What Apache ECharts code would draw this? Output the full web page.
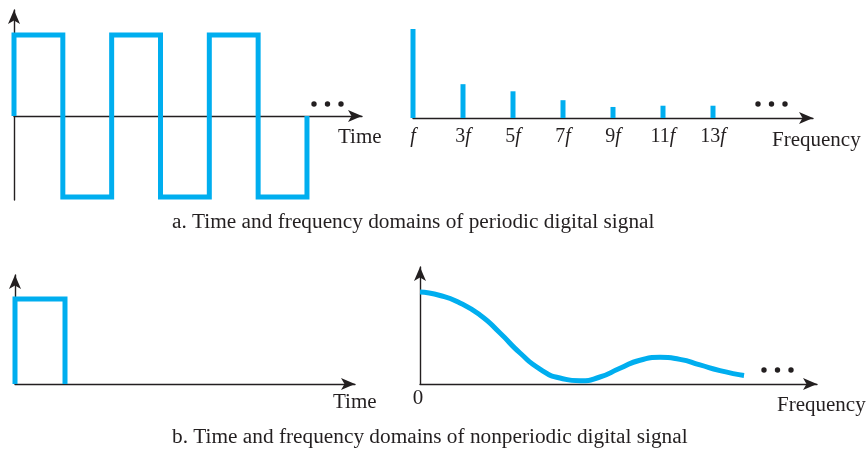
<!DOCTYPE html>
<html>
<head>
<meta charset="utf-8">
<script src="https://cdn.jsdelivr.net/npm/echarts@6/dist/echarts.min.js"></script>
<style>
html,body{margin:0;padding:0;background:#fff;}
#c{width:866px;height:450px;}
</style>
</head>
<body>
<div id="c"></div>
<script>
// ---- data ----
// periodic square wave (time in half-periods, amplitude)
var waveTimes  = [0, 0, 1, 1, 2, 2, 3, 3, 4, 4, 5, 5, 6, 6];
var waveValues = [0, 1, 1, -1, -1, 1, 1, -1, -1, 1, 1, -1, -1, 0];
// harmonics spectrum
var harmonicCats = ['f', '3f', '5f', '7f', '9f', '11f', '13f', '', ''];
var harmonicAmps = [1.0, 0.38, 0.30, 0.20, 0.124, 0.138, 0.138];
// single pulse
var pulseTimes  = [0, 0, 1, 1];
var pulseValues = [0, 1, 1, 0];
// continuous spectrum of the pulse
var specFreq = [0, 0.131, 0.261, 0.392, 0.523, 0.654, 0.784, 0.915, 1.046, 1.176, 1.307, 1.438, 1.569, 1.699, 1.830, 1.961, 2.118];
var specAmp  = [1.0, 0.962, 0.880, 0.750, 0.554, 0.337, 0.163, 0.065, 0.036, 0.076, 0.171, 0.258, 0.290, 0.268, 0.207, 0.145, 0.092];
// texts
var captionA = 'a. Time and frequency domains of periodic digital signal';
var captionB = 'b. Time and frequency domains of nonperiodic digital signal';

var BLUE = '#00aeef';
var INK = '#231f20';
var FONT = '"Liberation Serif", "Times New Roman", serif';

function zipXY(xs, ys) { return xs.map(function (x, i) { return [x, ys[i]]; }); }

var axisLineStyle = { color: INK, width: 1.4 };
function arrowAxis(extra) {
  var o = {
    type: 'value',
    axisLine: { show: true, onZero: true, symbol: ['none', 'arrow'], symbolSize: [9, 14], lineStyle: axisLineStyle },
    axisTick: { show: false }, axisLabel: { show: false }, splitLine: { show: false }
  };
  for (var k in extra) o[k] = extra[k];
  return o;
}

function txt(x, y, s, size, extraStyle) {
  var st = { text: s, x: 0, y: 0, fill: INK, font: (size || 21) + 'px ' + FONT, verticalAlign: 'middle', align: 'left' };
  if (extraStyle) for (var k in extraStyle) st[k] = extraStyle[k];
  return { type: 'text', x: x, y: y, style: st, silent: true };
}
function dots(x0, y, gap) {
  var arr = [];
  for (var i = 0; i < 3; i++) arr.push({ type: 'circle', shape: { cx: x0 + i * gap, cy: y, r: 2.7 }, style: { fill: INK }, silent: true });
  return arr;
}

var chart = echarts.init(document.getElementById('c'), null, { renderer: 'canvas' });
chart.setOption({
  animation: false,
  backgroundColor: '#ffffff',
  grid: [
    { left: 14, right: 866 - 362, top: 10, bottom: 450 - 200 },
    { left: 413, right: 866 - 813, top: 29, bottom: 450 - 118 },
    { left: 15, right: 866 - 355, top: 275, bottom: 450 - 384 },
    { left: 420, right: 866 - 817, top: 267, bottom: 450 - 384 }
  ],
  xAxis: [
    arrowAxis({ gridIndex: 0, min: 0, max: 7.127 }),
    {
      type: 'category', gridIndex: 1, data: harmonicCats, boundaryGap: false,
      axisLine: { show: true, symbol: ['none', 'arrow'], symbolSize: [9, 14], lineStyle: axisLineStyle },
      axisTick: { show: false }, splitLine: { show: false },
      axisLabel: {
        show: true, margin: 9, interval: 0,
        formatter: function (v) {
          if (!v) return '';
          var n = v.slice(0, -1);
          return (n ? '{n|' + n + '}' : '') + '{i|f}';
        },
        rich: {
          n: { fontFamily: FONT, fontSize: 20, color: INK },
          i: { fontFamily: FONT, fontSize: 20, fontStyle: 'italic', color: INK }
        }
      }
    },
    arrowAxis({ gridIndex: 2, min: 0, max: 6.8 }),
    arrowAxis({ gridIndex: 3, min: 0, max: 2.595 })
  ],
  yAxis: [
    arrowAxis({ gridIndex: 0, min: -1.037, max: 1.309 }),
    { type: 'value', gridIndex: 1, min: 0, max: 1.0, show: false },
    arrowAxis({ gridIndex: 2, min: 0, max: 1.282 }),
    arrowAxis({ gridIndex: 3, min: 0, max: 1.272 })
  ],
  series: [
    {
      type: 'line', xAxisIndex: 0, yAxisIndex: 0, data: zipXY(waveTimes, waveValues),
      symbol: 'none', lineStyle: { color: BLUE, width: 5, join: 'miter', cap: 'butt' }, z: 1
    },
    {
      type: 'bar', xAxisIndex: 1, yAxisIndex: 1, data: harmonicAmps,
      barWidth: 5, itemStyle: { color: BLUE }, z: 1
    },
    {
      type: 'line', xAxisIndex: 2, yAxisIndex: 2, data: zipXY(pulseTimes, pulseValues),
      symbol: 'none', lineStyle: { color: BLUE, width: 5, join: 'miter', cap: 'butt' }, z: 1
    },
    {
      type: 'line', xAxisIndex: 3, yAxisIndex: 3, data: zipXY(specFreq, specAmp),
      symbol: 'none', smooth: 0.6, lineStyle: { color: BLUE, width: 5, cap: 'butt', join: 'round' }, z: 1
    }
  ],
  graphic: [
    txt(338, 137, 'Time'),
    txt(772, 140, 'Frequency'),
    txt(333, 402, 'Time'),
    txt(418, 398, '0', 21, { align: 'center' }),
    txt(777, 405, 'Frequency'),
    txt(172, 222, captionA, 21.3),
    txt(172, 437, captionB, 21.3)
  ].concat(dots(314, 104, 13.5), dots(758, 104, 13.5), dots(764, 370, 13.5))
});
</script>
</body>
</html>
